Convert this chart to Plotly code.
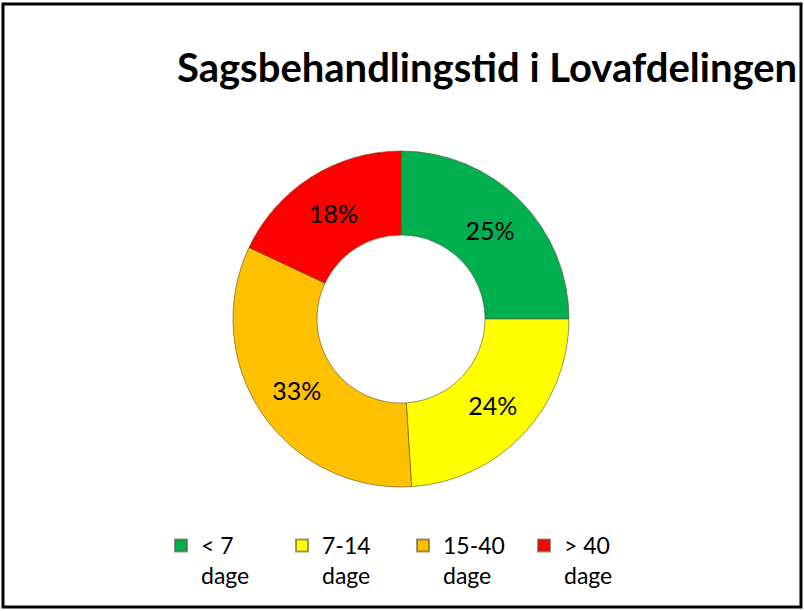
import plotly.graph_objects as go

categories = ["< 7<br>dage", "7-14<br>dage", "15-40<br>dage", "> 40<br>dage"]
values = [25, 24, 33, 18]
colors = ["#00B050", "#FFFF00", "#FFC000", "#FF0000"]
title_text = "Sagsbehandlingstid i Lovafdelingen"

W, H = 804, 611
cx, cy, R = 401, 319, 168

fig = go.Figure(go.Pie(
    labels=categories,
    values=values,
    sort=False,
    direction="clockwise",
    rotation=0,
    hole=0.5,
    marker=dict(colors=colors, line=dict(color="rgba(90,80,40,0.6)", width=1)),
    texttemplate="%{value}%",
    textposition="inside",
    insidetextorientation="horizontal",
    textfont=dict(family="Lato", size=25, color="black"),
    domain=dict(x=[(cx - R) / W, (cx + R) / W], y=[(H - cy - R) / H, (H - cy + R) / H]),
    hoverinfo="label+percent",
))

fig.update_layout(
    width=W, height=H,
    margin=dict(l=0, r=0, t=0, b=0, autoexpand=False),
    paper_bgcolor="white",
    showlegend=True,
    legend=dict(
        orientation="h", x=161 / W, y=(H - 524) / H, xanchor="left", yanchor="top",
        font=dict(family="Lato", size=23, color="black"),
        valign="top", entrywidth=76, entrywidthmode="pixels",
        itemsizing="constant", bgcolor="rgba(0,0,0,0)",
    ),
    annotations=[dict(
        text="<b>" + title_text + "</b>", x=487 / W, y=(H - 67) / H,
        xref="paper", yref="paper", xanchor="center", yanchor="middle",
        showarrow=False, font=dict(family="Lato", size=40, color="black"),
    )],
    shapes=[dict(
        type="rect", xref="paper", yref="paper",
        x0=3 / W, x1=801 / W, y0=(H - 607) / H, y1=(H - 4) / H,
        line=dict(color="black", width=3),
    )],
)

fig.write_html("out.html", config={"displayModeBar": False},
               post_script="document.body.style.margin='0';")
